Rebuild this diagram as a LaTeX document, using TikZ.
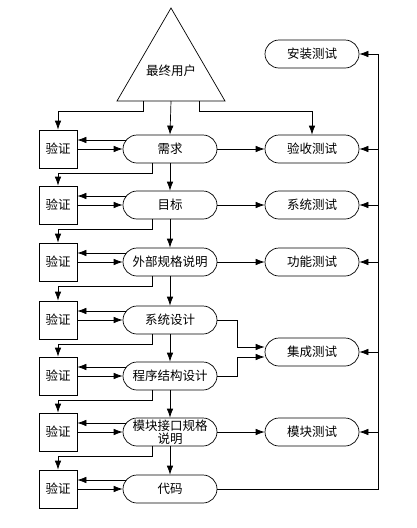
\documentclass[tikz,border=0pt]{standalone}
\usepackage{fontspec}
\newfontfamily\cjk{Noto Sans CJK SC}
\usetikzlibrary{arrows.meta,calc,shapes.misc}
\begin{document}
\begin{tikzpicture}[x=1pt,y=-1pt,line width=0.7pt,
  txt/.style={font=\cjk\fontsize{12.5}{13}\selectfont},
  pill/.style={draw,rounded rectangle,minimum width=94pt,minimum height=28pt,inner sep=0pt,txt,align=center},
  chkbox/.style={draw,minimum width=38pt,minimum height=38pt,inner sep=0pt,txt},
  arr/.style={-{Latex[length=9pt,width=6.5pt]}}]
\useasboundingbox[fill=white] (0,0) rectangle (417,528);
% triangle
\coordinate (apex) at (171,8);
\coordinate (bl) at (117,101);
\coordinate (br) at (225,101);
\draw (apex) -- (bl) -- (br) -- cycle;
\node[txt] (user) at (171,71) {最终用户};
\coordinate (tL) at (143,101);
\coordinate (tM) at (171,101);
\coordinate (tR) at (199,101);
% left column pills
\node[pill] (p1) at (170,149) {需求};
\node[pill] (p2) at (170,205) {目标};
\node[pill] (p3) at (170,262) {外部规格说明};
\node[pill] (p4) at (170,320) {系统设计};
\node[pill] (p5) at (170,376) {程序结构设计};
\node[pill] (p6) at (170,432) {模块接口规格\\说明};
\node[pill] (p7) at (170,489) {代码};
% check boxes
\foreach \i/\y in {1/149,2/205,3/262,4/320,5/376,6/432,7/489}
  \node[chkbox] (v\i) at (58,\y) {验证};
% right column
\node[pill] (r0) at (312,54) {安装测试};
\node[pill] (r1) at (312,149) {验收测试};
\node[pill] (r2) at (312,205) {系统测试};
\node[pill] (r3) at (312,262) {功能测试};
\node[pill] (r4) at (312,352) {集成测试};
\node[pill] (r5) at (312,432) {模块测试};
% triangle connections
\draw[arr] (tL) -- ++(0,10) -| (v1.north);
\draw[arr] (tM) -- (p1.north);
\draw[arr] (tR) -- ++(0,10) -| (r1.north);
% pill <-> check boxes
\foreach \i in {1,...,7}{
  \draw[arr] ($(p\i.west)+(3.3,-9)$) -- ($(v\i.east)+(0,-9)$);
  \draw[arr] (v\i.east) -- (p\i.west);
}
% downward flow
\foreach \i/\j in {1/2,2/3,3/4,4/5,5/6,6/7}{
  \draw[arr] (p\i.south) -- (p\j.north);
  \draw[arr] ($(p\i.south)+(-18,0)$) -- ++(0,10) -| (v\j.north);
}
% to tests
\draw[arr] (p1.east) -- (r1.west);
\draw[arr] (p2.east) -- (r2.west);
\draw[arr] (p3.east) -- (r3.west);
\draw[arr] (p6.east) -- (r5.west);
\draw[arr] (p4.east) -- ++(20,0) |- ($(r4.west)+(0,-5)$);
\draw[arr] (p5.east) -- ++(20,0) |- ($(r4.west)+(0,5)$);
% bus
\coordinate (busb) at (378,489);
\coordinate (bust) at (378,54);
\draw[arr] (p7.east) -- (busb) -- (bust) -- (r0.east);
\foreach \i in {1,...,5}
  \draw[arr] (r\i.east -| busb) -- (r\i.east);
\end{tikzpicture}
\end{document}
